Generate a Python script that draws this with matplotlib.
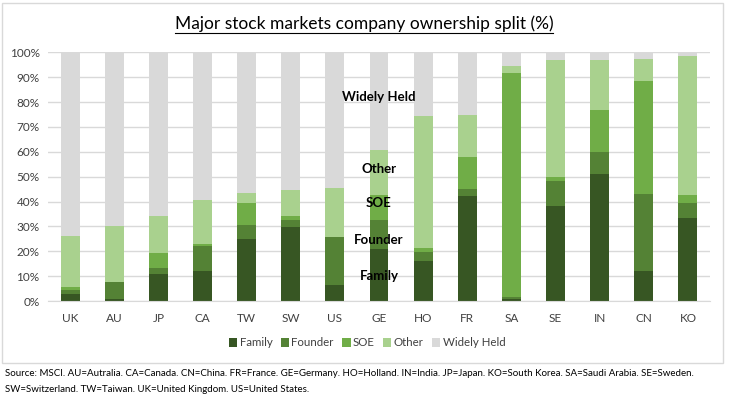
import matplotlib
matplotlib.use("Agg")
import matplotlib.pyplot as plt
from matplotlib.patches import Rectangle
import numpy as np

plt.rcParams['font.family'] = ['Lato', 'DejaVu Sans']

countries = ["UK", "AU", "JP", "CA", "TW", "SW", "US", "GE", "HO", "FR", "SA", "SE", "IN", "CN", "KO"]
family  = [2.8, 0.8, 10.9, 12.1, 24.9, 29.8, 6.4, 20.9, 16.1, 42.2, 1.0, 38.2, 51.1, 12.1, 33.4]
founder = [1.6, 6.9, 2.4, 10.0, 5.7, 2.8, 19.3, 11.7, 3.6, 2.8, 0.5, 10.1, 8.8, 30.9, 6.0]
soe     = [1.2, 0.1, 6.0, 0.8, 8.8, 1.6, 0.0, 10.0, 1.6, 12.9, 90.2, 1.6, 16.9, 45.5, 3.2]
other   = [20.5, 22.4, 14.9, 17.7, 4.0, 10.4, 19.7, 18.1, 53.1, 16.9, 2.8, 47.0, 20.1, 8.8, 55.9]
widely  = [100 - (a + b + c + d) for a, b, c, d in zip(family, founder, soe, other)]

series = [("Family", family, "#375623"),
          ("Founder", founder, "#548235"),
          ("SOE", soe, "#70AD47"),
          ("Other", other, "#A9D18E"),
          ("Widely Held", widely, "#D9D9D9")]

W, H = 729, 398
fig = plt.figure(figsize=(W / 100, H / 100), dpi=100)

# outer chart border
fig.patches.append(Rectangle((2 / W, 1 - 363 / H), 721 / W, 360 / H, transform=fig.transFigure,
                             fill=False, edgecolor="#d9d9d9", linewidth=1.0))

ax = fig.add_axes([48 / W, 1 - 301 / H, (710 - 48) / W, (301 - 52.3) / H])
x = np.arange(len(countries))
bottom = np.zeros(len(countries))
for name, vals, col in series:
    ax.bar(x, vals, bottom=bottom, width=0.43, color=col, label=name, zorder=2)
    bottom += np.array(vals)

ax.set_xlim(-0.5, len(countries) - 0.5)
ax.set_ylim(0, 100)
ax.set_yticks(np.arange(0, 101, 10))
ax.set_yticklabels([f"{v}%" for v in range(0, 101, 10)])
ax.set_xticks(x)
ax.set_xticklabels(countries)
ax.yaxis.grid(True, color="#d9d9d9", linewidth=1.0, zorder=0)
ax.set_axisbelow(True)
for s in ["top", "right", "left"]:
    ax.spines[s].set_visible(False)
ax.spines["bottom"].set_color("#d9d9d9")
ax.tick_params(axis="both", length=0, labelsize=8.5, colors="#404040")
ax.tick_params(axis="x", pad=9)
ax.tick_params(axis="y", pad=6)

# in-chart labels over GE bar
gi = countries.index("GE")
for txt, yv in [("Widely Held", 82), ("Other", 53), ("SOE", 39.5), ("Founder", 24.5), ("Family", 10)]:
    ax.text(gi, yv, txt, ha="center", va="center", fontsize=9.5, fontweight="bold", color="#000000", zorder=5)

title = fig.text(364 / W, 1 - 24 / H, "Major stock markets company ownership split (%)", ha="center", va="center",
                 fontsize=12.5, color="#000000")
fig.canvas.draw()
bb = title.get_window_extent(renderer=fig.canvas.get_renderer())
x0, x1 = bb.x0 / W, bb.x1 / W
fig.add_artist(plt.Line2D([x0, x1], [1 - 32.5 / H, 1 - 32.5 / H], transform=fig.transFigure,
                          color="#000000", linewidth=0.8))

handles, labels = ax.get_legend_handles_labels()
fig.legend(handles, labels, loc="center", bbox_to_anchor=(367 / W, 1 - 343 / H), ncol=5, frameon=False,
           fontsize=8.3, handlelength=0.75, handleheight=0.75, handletextpad=0.2, columnspacing=0.7,
           labelcolor="#404040")

fig.text(5 / W, 1 - 374 / H, "Source: MSCI. AU=Autralia. CA=Canada. CN=China. FR=France. GE=Germany. HO=Holland. IN=India. JP=Japan. KO=South Korea. SA=Saudi Arabia. SE=Sweden.",
         ha="left", va="center", fontsize=7, color="#000000")
fig.text(5 / W, 1 - 390 / H, "SW=Switzerland. TW=Taiwan. UK=United Kingdom. US=United States.",
         ha="left", va="center", fontsize=7, color="#000000")

fig.savefig("out.png", dpi=100)
